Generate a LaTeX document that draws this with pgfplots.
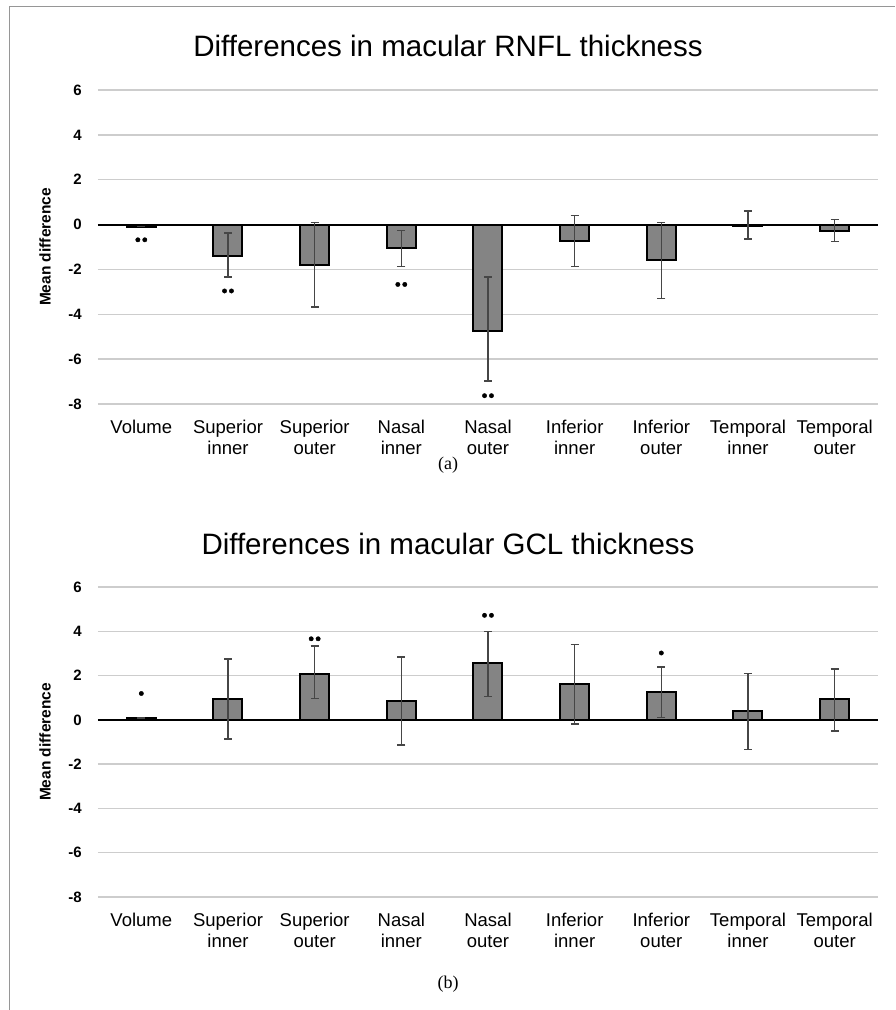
\documentclass[border=0pt]{standalone}
\usepackage{pgfplots}
\pgfplotsset{compat=1.18}
\usepackage{pgfplotstable}
\usepackage{fontspec}
\setmainfont{Liberation Sans}
\newfontfamily\serif{Liberation Serif}
\definecolor{barfill}{RGB}{132,132,132}
\definecolor{gridc}{RGB}{205,205,205}
\definecolor{errc}{RGB}{70,70,70}
\definecolor{framec}{RGB}{150,150,150}

\pgfplotstableread{
x y ep em
0 -0.09 0 0
1 -1.42 1.05 0.92
2 -1.80 1.89 1.88
3 -1.05 0.80 0.82
4 -4.73 2.39 2.25
5 -0.75 1.16 1.12
6 -1.58 1.68 1.72
7 -0.07 0.67 0.57
8 -0.28 0.50 0.47
}\rnfl
\pgfplotstableread{
x y ep em
0 0.09 0 0
1 0.96 1.79 1.83
2 2.08 1.25 1.12
3 0.84 2.00 1.98
4 2.56 1.44 1.51
5 1.61 1.80 1.80
6 1.24 1.14 1.14
7 0.38 1.70 1.73
8 0.96 1.33 1.46
}\gcl
\pgfplotstableread{
x y
-0.04 -0.68
0.04 -0.68
0.96 -2.96
1.04 -2.96
2.96 -2.67
3.04 -2.67
3.96 -7.63
4.04 -7.63
}\rnflstars
\pgfplotstableread{
x y
0 1.19
1.96 3.66
2.04 3.66
3.96 4.72
4.04 4.72
6 3.02
}\gclstars

\pgfplotsset{
  mychart/.style={
    scale only axis,
    width=780pt,
    xmin=-0.5, xmax=8.5,
    ymin=-8, ymax=6,
    ytick={-8,-6,...,6},
    xtick={0,...,8},
    xticklabels={Volume,{Superior\\inner},{Superior\\outer},{Nasal\\inner},{Nasal\\outer},{Inferior\\inner},{Inferior\\outer},{Temporal\\inner},{Temporal\\outer}},
    xticklabel style={align=center, inner sep=0pt, yshift=-16pt, font=\fontsize{18.5}{20.5}\selectfont},
    yticklabel style={inner sep=0pt, xshift=-16pt, font=\fontsize{15}{17}\selectfont\bfseries},
    /pgf/number format/assume math mode=true,
    axis line style={draw=none},
    major tick length=0pt,
    ymajorgrids,
    grid style={gridc, line width=1.5pt},
    extra y ticks={0},
    extra y tick labels={},
    extra y tick style={grid style={black, line width=2pt}},
    ylabel={Mean difference},
    ylabel style={at={(axis description cs:-0.068,0.5)}, anchor=center, font=\fontsize{15.5}{17}\selectfont\bfseries},
  },
  mybars/.style={
    ybar, bar width=29pt, bar shift=0pt,
    draw=black, line width=2pt, fill=barfill,
    error bars/.cd, y dir=both, y explicit,
    error bar style={errc, line width=1.3pt},
    error mark options={errc, rotate=90, mark size=4pt, line width=1.3pt},
  },
  mystars/.style={only marks, mark=*, mark size=2.2pt, black, forget plot},
}

\begin{document}
\begin{tikzpicture}
\useasboundingbox (0pt,0pt) rectangle (895pt,1010pt);
\draw[framec, line width=1pt] (9pt,0pt) -- (9pt,1003pt) -- (895pt,1003pt);

\node[font=\fontsize{29.5}{32}\selectfont] at (448pt,964pt) {Differences in macular RNFL thickness};
\node[font=\fontsize{29.5}{32}\selectfont] at (448pt,466pt) {Differences in macular GCL thickness};
\node[font=\serif\fontsize{18}{20}\selectfont] at (448pt,545pt) {(a)};
\node[font=\serif\fontsize{18}{20}\selectfont] at (448pt,26pt) {(b)};

\begin{axis}[mychart, at={(98pt,606pt)}, anchor=south west, height=314pt]
\addplot[mybars] table[x=x, y=y, y error plus=ep, y error minus=em] {\rnfl};
\addplot[mystars] table[x=x,y=y] {\rnflstars};
\end{axis}

\begin{axis}[mychart, at={(98pt,113pt)}, anchor=south west, height=310pt]
\addplot[mybars] table[x=x, y=y, y error plus=ep, y error minus=em] {\gcl};
\addplot[mystars] table[x=x,y=y] {\gclstars};
\end{axis}
\end{tikzpicture}
\end{document}
